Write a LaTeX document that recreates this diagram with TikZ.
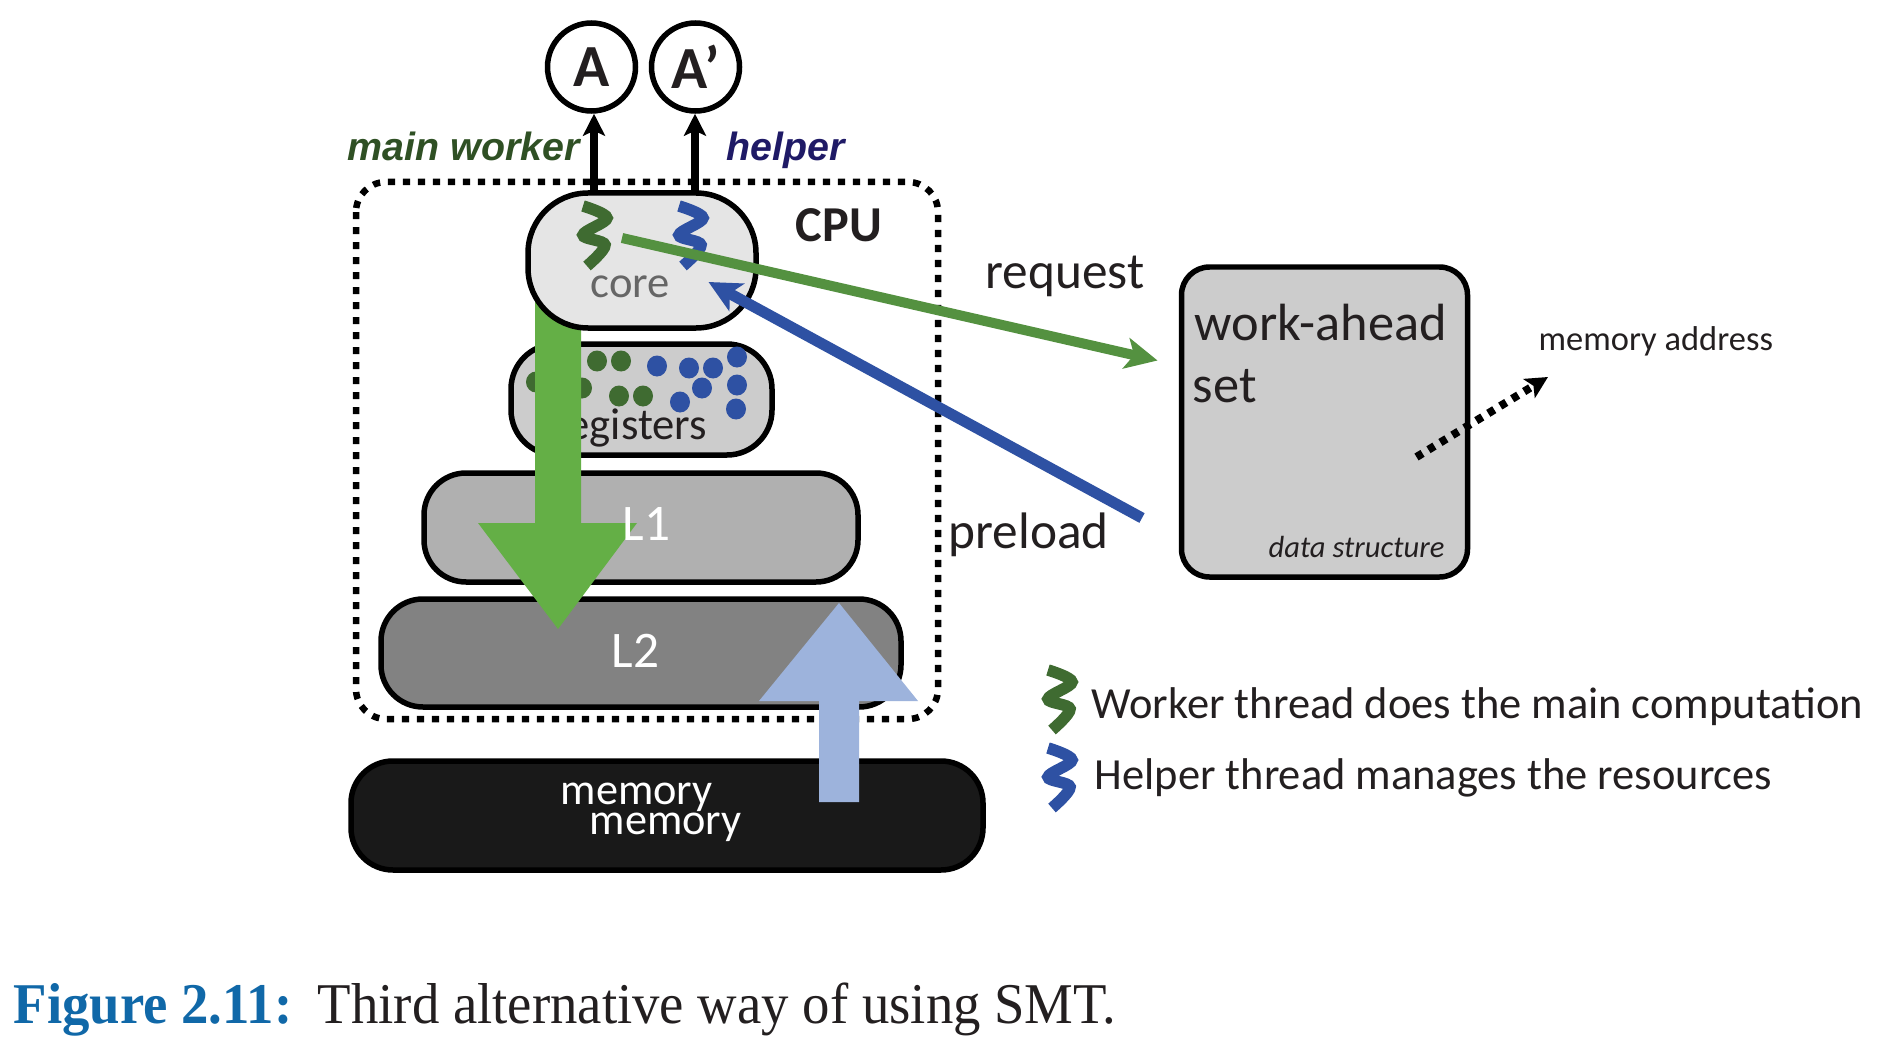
\documentclass[tikz,border=0pt]{standalone}
\usepackage{fontspec}
\usepackage{xcolor}
\usepackage{tikz}
\usetikzlibrary{arrows.meta}
\usetikzlibrary{shapes.geometric}
\setmainfont{Carlito}
\newfontfamily\arialfont{Liberation Sans}
\newfontfamily\capfont[FakeStretch=0.95]{Liberation Serif}
\definecolor{threadgreen}{HTML}{3F6B31}
\definecolor{threadblue}{HTML}{2E51A3}
\definecolor{reqgreen}{HTML}{549140}
\definecolor{biggreen}{HTML}{64AF46}
\definecolor{bigblue}{HTML}{9DB3DC}
\definecolor{inkblack}{HTML}{231F20}
\definecolor{maingreen}{HTML}{2F5024}
\definecolor{helpernavy}{HTML}{1F1A66}
\definecolor{figblue}{HTML}{1068A8}
\newcommand{\fsz}[1]{\fontsize{#1}{#1}\selectfont}
\tikzset{
 level/.style={draw=black, line width=.055cm, rounded corners=.42cm, inner sep=0},
 txt/.style={anchor=base west, inner sep=0, text=inkblack},
 white txt/.style={anchor=base west, inner sep=0, text=white},
 dot/.style={ellipse, minimum width=.2cm, minimum height=.21cm, inner sep=0, fill=#1},
 thread/.pic={\draw[line width=.115cm, pic actions] plot[smooth, tension=.6] coordinates {(0,0) (.24,-.12) (0,-.29) (.22,-.39) (.04,-.6)};},
 result/.style={draw=black, line width=.055cm, circle, minimum size=.88cm, inner sep=0, font=\fsz{17}\bfseries, text=inkblack},
 small head/.style={-{Stealth[length=.22cm,width=.22cm,inset=.05cm]}},
 wide head/.style={-{Stealth[length=.32cm,width=.31cm,inset=.08cm]}},
}
\begin{document}
\begin{tikzpicture}
\useasboundingbox (0,0) rectangle (18.82,-10.51);
\fill[white] (0,0) rectangle (18.82,-10.51);
% cpu outline
\draw[black, line width=.065cm, dash pattern=on .072cm off .078cm, rounded corners=.3cm] (3.56,-1.82) rectangle (9.38,-7.19);
% results
\node[result] (A) at (5.915,-.67) {A};
\node[result] (Aprime) at (6.955,-.67) {A’};
\coordinate (mainout) at (5.94,-2);
\coordinate (helperout) at (6.95,-2);
\draw[black, line width=.075cm, small head] (mainout) -- (mainout |- A.south);
\draw[black, line width=.075cm, small head] (helperout) -- (helperout |- Aprime.south);
\node[txt, text=maingreen, font=\arialfont\fsz{11.2}\bfseries\itshape] (mainlabel) at (3.47,-1.61) {main worker};
\node[txt, text=helpernavy, font=\arialfont\fsz{11.2}\bfseries\itshape] (helperlabel) at (7.255,-1.61) {helper};
% memory hierarchy
\node[level, fill=black!90, minimum width=6.32cm, minimum height=1.09cm] (memory) at (6.67,-8.155) {};
\node[level, fill=black!49, minimum width=5.2cm, minimum height=1.08cm] (Ltwo) at (6.41,-6.53) {};
\node[level, fill=black!31, minimum width=4.34cm, minimum height=1.09cm] (Lone) at (6.41,-5.275) {};
\node[level, fill=black!20, minimum width=2.61cm, minimum height=1.11cm, rounded corners=.45cm] (registers) at (6.415,-3.995) {};
\node[txt, font=\fsz{12.7}] (registerstext) at (5.52,-4.39) {registers};
% register contents
\foreach \x/\y in {5.97/3.61, 6.21/3.61, 5.36/3.82, 5.82/3.88, 6.19/3.96, 6.43/3.96} {
 \node[dot=threadgreen] at (\x,-\y) {};
}
\foreach \x/\y in {6.57/3.66, 6.89/3.68, 7.13/3.68, 7.37/3.57, 7.02/3.88, 7.37/3.85, 6.80/4.02, 7.36/4.09} {
 \node[dot=threadblue] at (\x,-\y) {};
}
% big arrows
\fill[biggreen] (5.35,-2.9) -- (5.81,-2.9) -- (5.81,-5.23) -- (6.37,-5.23) -- (5.58,-6.29) -- (4.78,-5.23) -- (5.35,-5.23) -- cycle;
\node[level, fill=black!10, minimum width=2.28cm, minimum height=1.35cm, rounded corners=.6cm] (core) at (6.42,-2.605) {};
\node[txt, text=black!60, font=\fsz{12.7}] (coretext) at (5.9,-2.97) {core};
\node[txt, font=\fsz{14.3}\bfseries] (cpu) at (7.95,-2.42) {CPU};
\node[white txt, font=\fsz{14.6}] (Lonetext) at (6.22,-5.4) {L1};
\node[white txt, font=\fsz{14.6}] (Ltwotext) at (6.11,-6.67) {L2};
\node[white txt, font=\fsz{12.6}] (memorytexta) at (5.6,-8.04) {memory};
\node[white txt, font=\fsz{12.6}] (memorytextb) at (5.89,-8.34) {memory};
\fill[bigblue] (8.19,-8.02) -- (8.59,-8.02) -- (8.59,-7.01) -- (9.18,-7.01) -- (8.39,-6.03) -- (7.59,-7.01) -- (8.19,-7.01) -- cycle;
% threads
\pic[threadgreen] at (5.83,-2.06) {thread};
\pic[threadblue] at (6.79,-2.06) {thread};
% data structure
\node[level, fill=black!20, minimum width=2.86cm, minimum height=3.1cm, rounded corners=.28cm] (workset) at (13.245,-4.22) {};
\node[txt, font=\fsz{14.9}] (workahead) at (11.94,-3.4) {work-ahead};
\node[txt, font=\fsz{14.9}] (settext) at (11.92,-4.02) {set};
\node[txt, font=\fsz{8.7}\itshape] (structure) at (12.68,-5.57) {data structure};
\node[txt, font=\fsz{14.6}] (request) at (9.85,-2.89) {request};
\node[txt, font=\fsz{14.6}] (preload) at (9.48,-5.48) {preload};
\node[txt, font=\fsz{9.8}] (address) at (15.38,-3.5) {memory address};
\coordinate (setpoint) at (14.165,-4.57);
\coordinate (addrpoint) at (15.48,-3.77);
\draw[black, line width=.08cm, dash pattern=on .07cm off .07cm, small head] (setpoint) -- (addrpoint);
% request and preload
\coordinate (reqstart) at (6.22,-2.38);
\coordinate (reqend) at (11.575,-3.605);
\coordinate (preloadstart) at (11.42,-5.18);
\coordinate (preloadend) at (7.085,-2.82);
\draw[threadblue, line width=.11cm, wide head] (preloadstart) -- (preloadend);
\draw[reqgreen, line width=.1cm, wide head] (reqstart) -- (reqend);
% legend
\pic[threadgreen] at (10.48,-6.7) {thread};
\pic[threadblue] at (10.48,-7.48) {thread};
\node[txt, font=\fsz{12.65}] (workerlegend) at (10.91,-7.18) {Worker thread does the main computation};
\node[txt, font=\fsz{12.65}] (helperlegend) at (10.94,-7.89) {Helper thread manages the resources};
% caption
\node[txt, text=figblue, font=\capfont\fsz{16.4}\bfseries] (figlabel) at (.13,-10.23) {Figure 2.11:};
\node[txt, font=\capfont\fsz{16.4}] (caption) at (3.17,-10.23) {Third alternative way of using SMT.};
\end{tikzpicture}
\end{document}
